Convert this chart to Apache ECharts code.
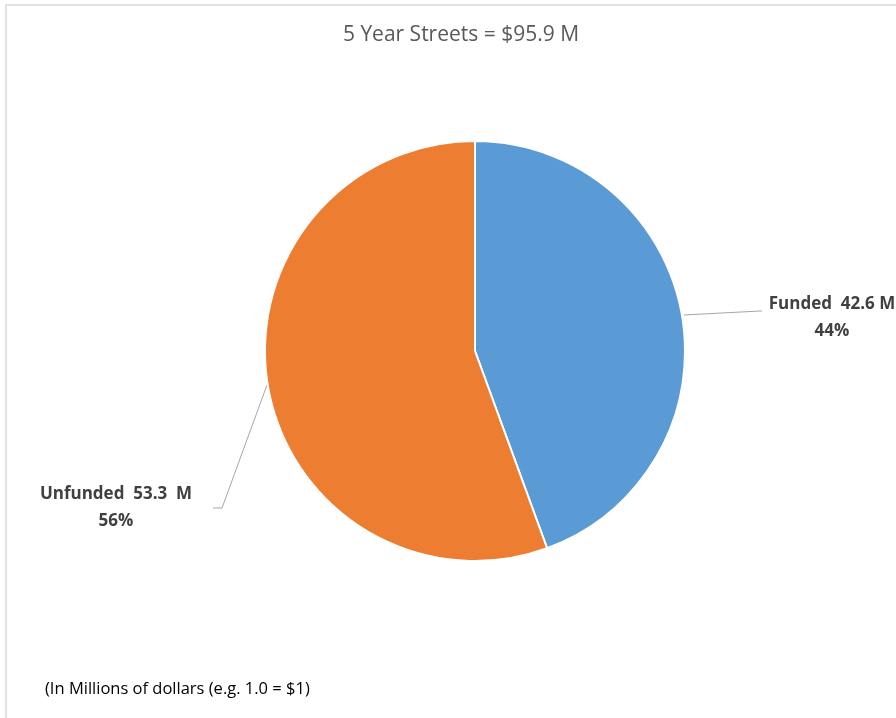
<!DOCTYPE html>
<html>
<head>
<meta charset="utf-8">
<script src="https://cdn.jsdelivr.net/npm/echarts@6/dist/echarts.min.js"></script>
<style>
  html, body { margin: 0; padding: 0; background: #fff; }
  #chart { width: 896px; height: 718px; }
</style>
</head>
<body>
<div id="chart"></div>
<script>
// values in millions
var names = ['Funded', 'Unfunded'];
var values = [42.6, 53.3];
var colors = ['#5b9bd5', '#ed7d31'];
var titleText = '5 Year Streets = $95.9 M';
var noteText = '(In Millions of dollars (e.g. 1.0 = $1)';

var fontFamily = '"Open Sans", "Liberation Sans", sans-serif';

var myChart = echarts.init(document.getElementById('chart'));

var option = {
  backgroundColor: '#fff',
  animation: false,
  title: {
    text: titleText,
    left: 456,
    top: 20,
    textAlign: 'center',
    textStyle: {
      fontFamily: fontFamily,
      fontSize: 21,
      fontWeight: 'normal',
      color: '#595959'
    }
  },
  graphic: [
    {
      type: 'rect',
      shape: { x: 6, y: 5, width: 900, height: 720 },
      style: { fill: 'none', stroke: '#d9d9d9', lineWidth: 1.5 },
      silent: true
    },
    {
      type: 'text',
      left: 45,
      top: 681,
      style: {
        text: noteText,
        font: '16.5px ' + fontFamily,
        fill: '#000'
      }
    }
  ],
  series: [
    {
      type: 'pie',
      center: [475, 351],
      radius: 210,
      startAngle: 90,
      clockwise: true,
      itemStyle: {
        borderColor: '#fff',
        borderWidth: 2
      },
      label: {
        show: true,
        fontFamily: fontFamily,
        fontSize: 17,
        fontWeight: 'bold',
        color: '#404040',
        lineHeight: 27,
        align: 'center',
        formatter: function (p) {
          var sep = p.dataIndex === 1 ? '  M' : ' M';
          return p.name + '  ' + p.value.toFixed(1) + sep + '\n' + Math.round(p.percent) + '%';
        }
      },
      labelLine: {
        show: true,
        lineStyle: { color: '#a6a6a6', width: 1 }
      },
      labelLayout: function (params) {
        if (params.dataIndex === 0) {
          return {
            x: 832,
            y: 318,
            align: 'center',
            verticalAlign: 'middle',
            labelLinePoints: [[684, 315], [760, 311], [762, 311]]
          };
        }
        return {
          x: 116,
          y: 508,
          align: 'center',
          verticalAlign: 'middle',
          labelLinePoints: [[267, 385], [222, 508], [213, 508]]
        };
      },
      data: names.map(function (n, i) {
        return { name: n, value: values[i], itemStyle: { color: colors[i] } };
      })
    }
  ]
};

myChart.setOption(option);
</script>
</body>
</html>
